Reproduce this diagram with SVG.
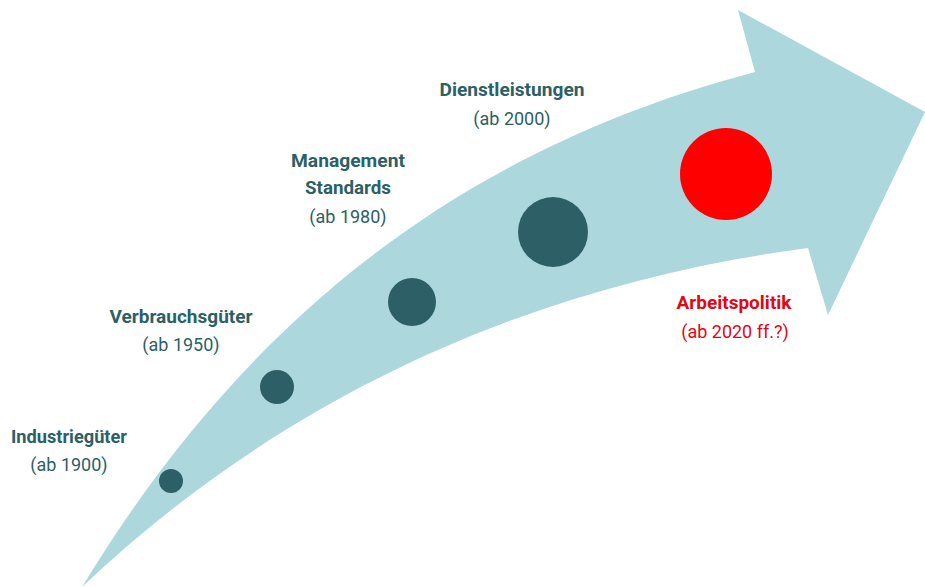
<svg xmlns="http://www.w3.org/2000/svg" width="925" height="587" viewBox="0 0 925 587">
<style>
.lbl{font-family:Roboto,"Liberation Sans",sans-serif;font-weight:bold;font-size:19px;fill:#2c5f66;text-anchor:middle}
.sub{font-family:Roboto,"Liberation Sans",sans-serif;font-size:18px;fill:#2c5f66;text-anchor:middle}
.red{fill:#e30613}
.dot{fill:#2c5f66}
</style>
<rect width="925" height="587" fill="#ffffff"/>
<g id="arrow">
<path d="M82,587 C 220,360 420,160 755,72 L738,10 L925,112 L828,315 L808,248 C 560,280 300,380 82,587 Z" fill="#acd8dd"/>
</g>
<g id="connectors"></g>
<g id="node-1900">
<circle class="dot" cx="171" cy="481" r="12"/>
<text class="lbl" x="69" y="443" textLength="116" lengthAdjust="spacingAndGlyphs">Industriegüter</text>
<text class="sub" x="69" y="471">(ab 1900)</text>
</g>
<g id="node-1950">
<circle class="dot" cx="277" cy="387" r="17"/>
<text class="lbl" x="181" y="323" textLength="143" lengthAdjust="spacingAndGlyphs">Verbrauchsgüter</text>
<text class="sub" x="181" y="351">(ab 1950)</text>
</g>
<g id="node-1980">
<circle class="dot" cx="412" cy="302" r="24"/>
<text class="lbl" x="348" y="167" textLength="114" lengthAdjust="spacingAndGlyphs">Management</text>
<text class="lbl" x="348" y="194" textLength="86" lengthAdjust="spacingAndGlyphs">Standards</text>
<text class="sub" x="348" y="223">(ab 1980)</text>
</g>
<g id="node-2000">
<circle class="dot" cx="553" cy="232" r="35"/>
<text class="lbl" x="512" y="96" textLength="145" lengthAdjust="spacingAndGlyphs">Dienstleistungen</text>
<text class="sub" x="512" y="125">(ab 2000)</text>
</g>
<g id="node-2020">
<circle cx="726" cy="174" r="46" fill="#ff0000"/>
<text class="lbl red" x="734" y="309" textLength="115" lengthAdjust="spacingAndGlyphs">Arbeitspolitik</text>
<text class="sub red" x="735" y="338">(ab 2020 ff.?)</text>
</g>
</svg>
